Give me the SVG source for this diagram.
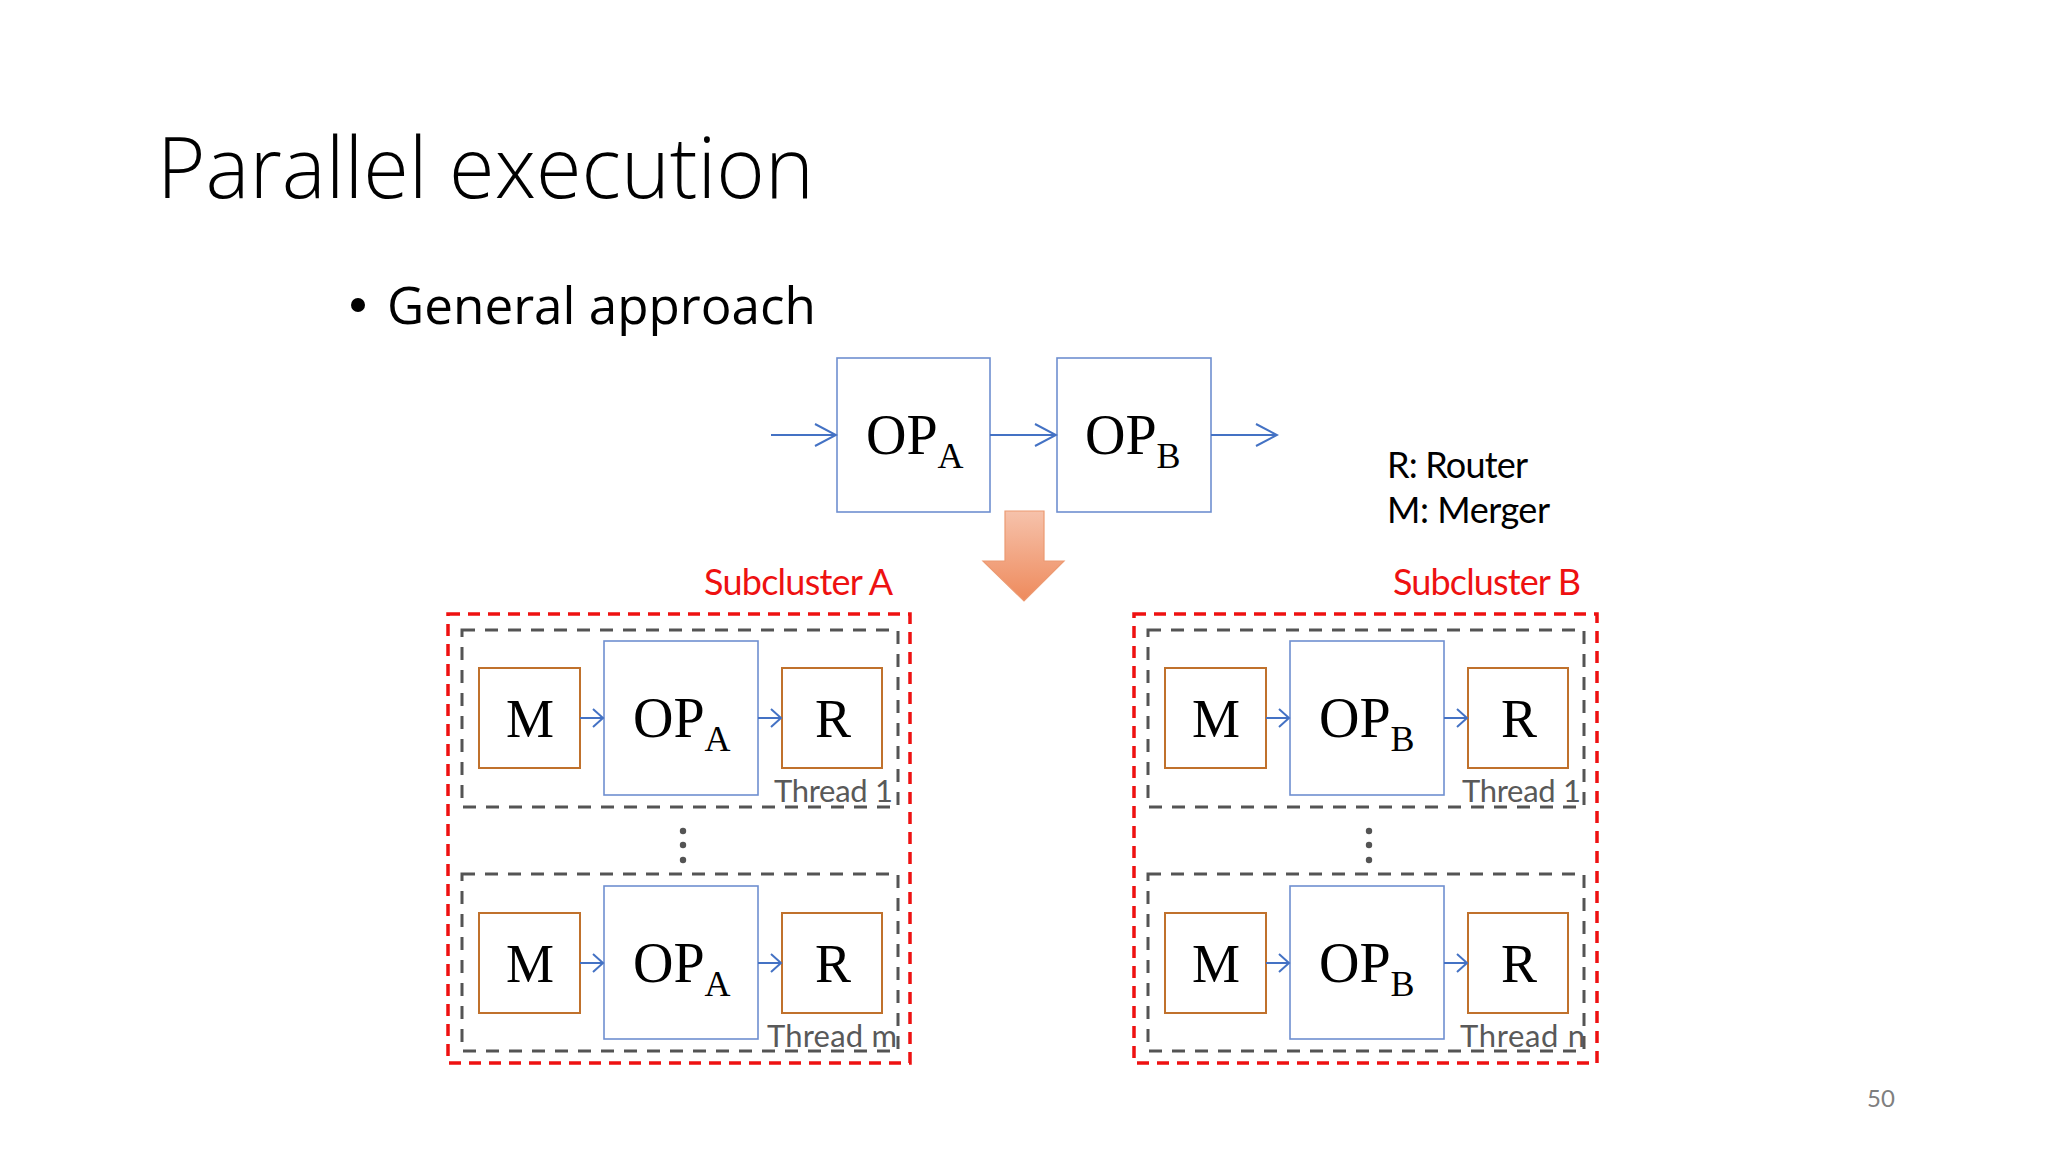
<svg xmlns="http://www.w3.org/2000/svg" width="2048" height="1152" viewBox="0 0 2048 1152">
  <defs>
    <style>
      .sans { font-family: Lato, "Open Sans", "Liberation Sans", sans-serif; }
      .head { font-family: "Open Sans", Lato, "Liberation Sans", sans-serif; }
      .serif { font-family: "Liberation Serif", "Times New Roman", serif; fill: #000; }
      .op { fill: #fff; stroke: #6f8fd0; stroke-width: 1.6; }
      .mr { fill: #fff; stroke: #c0712c; stroke-width: 2; }
      .thread { fill: none; stroke: #545454; stroke-width: 3; stroke-dasharray: 13 10; }
      .cluster { fill: none; stroke: #ee1111; stroke-width: 3.5; stroke-dasharray: 12 8; }
      .conn { fill: none; stroke: #4472c4; stroke-width: 2; }
      .big { marker-end: url(#arrowBig); }
      .small { marker-end: url(#arrowSmall); }
      .tlabel { font-size: 31px; fill: #595959; }
      .red { font-size: 36px; fill: #ee1111; }
    </style>
    <marker id="arrowBig" viewBox="-23 -13 25 26" markerWidth="25" markerHeight="26" refX="0" refY="0" orient="auto" markerUnits="userSpaceOnUse">
      <path d="M-21,-11 L0,0 L-21,11" fill="none" stroke="#4472c4" stroke-width="2"/>
    </marker>
    <marker id="arrowSmall" viewBox="-13 -11 15 22" markerWidth="15" markerHeight="22" refX="0" refY="0" orient="auto" markerUnits="userSpaceOnUse">
      <path d="M-10,-9 L0,0 L-10,9" fill="none" stroke="#4472c4" stroke-width="2"/>
    </marker>
    <linearGradient id="orangeGrad" x1="0" y1="0" x2="0" y2="1">
      <stop offset="0" stop-color="#f6c2ab"/>
      <stop offset="1" stop-color="#ee8a5c"/>
    </linearGradient>
  </defs>

  <rect x="0" y="0" width="2048" height="1152" fill="#ffffff"/>

  <g id="title">
    <text class="head" x="157" y="198" font-size="85" font-weight="300" textLength="657" lengthAdjust="spacingAndGlyphs" fill="#000">Parallel execution</text>
  </g>
  <g id="bullet">
    <circle cx="358" cy="305" r="7" fill="#000"/>
    <text class="head" x="387" y="324" font-size="52" textLength="429" lengthAdjust="spacingAndGlyphs" fill="#000">General approach</text>
  </g>

  <g id="legend">
    <text class="sans" x="1387" y="478" font-size="36" textLength="141" fill="#000">R: Router</text>
    <text class="sans" x="1387" y="523" font-size="36" textLength="163" fill="#000">M: Merger</text>
  </g>

  <g id="top-opA">
    <rect class="op" x="837" y="358" width="153" height="154"/>
    <text class="serif" x="866" y="454" font-size="56">OP<tspan dy="14" font-size="36">A</tspan></text>
  </g>
  <g id="top-opB">
    <rect class="op" x="1057" y="358" width="154" height="154"/>
    <text class="serif" x="1085" y="454" font-size="56">OP<tspan dy="14" font-size="36">B</tspan></text>
  </g>

  <g id="transform-arrow">
    <polygon points="1005,511 1044,511 1044,561 1064,561 1024,601 983,561 1005,561" fill="url(#orangeGrad)" stroke="#ec9a72" stroke-width="1.2"/>
  </g>

  <g id="subcluster-A">
    <rect class="cluster" x="448" y="614" width="462" height="449"/>
    <text class="sans red" x="704" y="595" textLength="189">Subcluster A</text>
    <g id="A-thread1">
      <rect class="thread" x="462" y="630" width="436" height="177"/>
      <rect class="mr" x="479" y="668" width="101" height="100"/>
      <text class="serif" x="530" y="737" font-size="54" text-anchor="middle">M</text>
      <rect class="op" x="604" y="641" width="154" height="154"/>
      <text class="serif" x="633" y="737" font-size="56">OP<tspan dy="14" font-size="36">A</tspan></text>
      <rect class="mr" x="782" y="668" width="100" height="100"/>
      <text class="serif" x="833" y="737" font-size="54" text-anchor="middle">R</text>
      <text class="sans tlabel" x="774" y="802" textLength="119">Thread 1</text>
    </g>
    <g id="A-dots" fill="#545454">
      <circle cx="683" cy="831" r="3.2"/>
      <circle cx="683" cy="845" r="3.2"/>
      <circle cx="683" cy="860" r="3.2"/>
    </g>
    <g id="A-threadm">
      <rect class="thread" x="462" y="874" width="436" height="177"/>
      <rect class="mr" x="479" y="913" width="101" height="100"/>
      <text class="serif" x="530" y="982" font-size="54" text-anchor="middle">M</text>
      <rect class="op" x="604" y="886" width="154" height="153"/>
      <text class="serif" x="633" y="982" font-size="56">OP<tspan dy="14" font-size="36">A</tspan></text>
      <rect class="mr" x="782" y="913" width="100" height="100"/>
      <text class="serif" x="833" y="982" font-size="54" text-anchor="middle">R</text>
      <text class="sans tlabel" x="767" y="1047" textLength="130">Thread m</text>
    </g>
  </g>

  <g id="subcluster-B">
    <rect class="cluster" x="1134" y="614" width="463" height="449"/>
    <text class="sans red" x="1393" y="595" textLength="188">Subcluster B</text>
    <g id="B-thread1">
      <rect class="thread" x="1148" y="630" width="436" height="177"/>
      <rect class="mr" x="1165" y="668" width="101" height="100"/>
      <text class="serif" x="1216" y="737" font-size="54" text-anchor="middle">M</text>
      <rect class="op" x="1290" y="641" width="154" height="154"/>
      <text class="serif" x="1319" y="737" font-size="56">OP<tspan dy="14" font-size="36">B</tspan></text>
      <rect class="mr" x="1468" y="668" width="100" height="100"/>
      <text class="serif" x="1519" y="737" font-size="54" text-anchor="middle">R</text>
      <text class="sans tlabel" x="1462" y="802" textLength="119">Thread 1</text>
    </g>
    <g id="B-dots" fill="#545454">
      <circle cx="1369" cy="831" r="3.2"/>
      <circle cx="1369" cy="845" r="3.2"/>
      <circle cx="1369" cy="860" r="3.2"/>
    </g>
    <g id="B-threadn">
      <rect class="thread" x="1148" y="874" width="436" height="177"/>
      <rect class="mr" x="1165" y="913" width="101" height="100"/>
      <text class="serif" x="1216" y="982" font-size="54" text-anchor="middle">M</text>
      <rect class="op" x="1290" y="886" width="154" height="153"/>
      <text class="serif" x="1319" y="982" font-size="56">OP<tspan dy="14" font-size="36">B</tspan></text>
      <rect class="mr" x="1468" y="913" width="100" height="100"/>
      <text class="serif" x="1519" y="982" font-size="54" text-anchor="middle">R</text>
      <text class="sans tlabel" x="1460" y="1047" textLength="125">Thread n</text>
    </g>
  </g>

  <g id="connectors">
    <line class="conn big" x1="771" y1="435" x2="836" y2="435"/>
    <line class="conn big" x1="990" y1="435" x2="1056" y2="435"/>
    <line class="conn big" x1="1211" y1="435" x2="1277" y2="435"/>
    <line class="conn small" x1="580" y1="718" x2="603" y2="718"/>
    <line class="conn small" x1="758" y1="718" x2="781" y2="718"/>
    <line class="conn small" x1="580" y1="963" x2="603" y2="963"/>
    <line class="conn small" x1="758" y1="963" x2="781" y2="963"/>
    <line class="conn small" x1="1266" y1="718" x2="1289" y2="718"/>
    <line class="conn small" x1="1444" y1="718" x2="1467" y2="718"/>
    <line class="conn small" x1="1266" y1="963" x2="1289" y2="963"/>
    <line class="conn small" x1="1444" y1="963" x2="1467" y2="963"/>
  </g>

  <g id="page-number">
    <text class="sans" x="1867" y="1107" font-size="24" fill="#7f7f7f">50</text>
  </g>
</svg>
